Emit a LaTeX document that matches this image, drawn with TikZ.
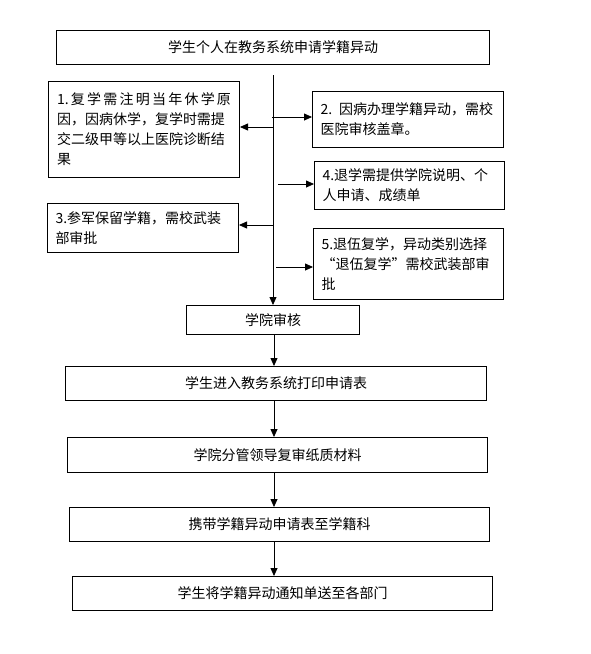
\documentclass[tikz,border=0pt]{standalone}
\usepackage{fontspec}
\setmainfont{Noto Sans CJK SC}
\usetikzlibrary{arrows.meta}
\begin{document}
\begin{tikzpicture}[x=1pt,y=-1pt,
  box/.style={draw=black, line width=1pt, inner sep=0pt, anchor=north west,
    font=\fontsize{14pt}{20pt}\selectfont},
  mbox/.style={box, align=left},
  conn/.style={draw=black, line width=0.8pt},
  arr/.style={conn, -{Triangle[length=8pt,width=7pt]}}]
\fill[white] (0,0) rectangle (590,654);
\useasboundingbox (0,0) rectangle (590,654);

\node[box, minimum width=433pt, minimum height=34pt] (top) at (56,30) {学生个人在教务系统申请学籍异动};

\node[mbox, minimum width=191pt, minimum height=96pt, text width=174pt] (b1) at (48,81)
  {\hbox to 174pt{1.\hfill 复\hfill 学\hfill 需\hfill 注\hfill 明\hfill 当\hfill 年\hfill 休\hfill 学\hfill 原}\\
   因，因病休学，复学时需提\\交二级甲等以上医院诊断结\\果};
\node[mbox, minimum width=191pt, minimum height=56pt, text width=175pt] (b2) at (312,91)
  {2. 因病办理学籍异动，需校\\医院审核盖章。};
\node[mbox, minimum width=190pt, minimum height=48pt, text width=174pt] (b4) at (314,161)
  {4.退学需提供学院说明、个\\人申请、成绩单};
\node[mbox, minimum width=191pt, minimum height=49pt, text width=175pt] (b3) at (47,203)
  {3.参军保留学籍，需校武装\\部审批};
\node[mbox, minimum width=190pt, minimum height=71pt, text width=174pt] (b5) at (313,228)
  {5.退伍复学，异动类别选择\\“退伍复学”需校武装部审\\批};

\node[box, minimum width=173pt, minimum height=29pt] (sh) at (186,305) {学院审核};
\node[box, minimum width=421pt, minimum height=34pt] (b6) at (65,366) {学生进入教务系统打印申请表};
\node[box, minimum width=420pt, minimum height=35pt] (b7) at (67,437) {学院分管领导复审纸质材料};
\node[box, minimum width=420pt, minimum height=34pt] (b8) at (69,507) {携带学籍异动申请表至学籍科};
\node[box, minimum width=420pt, minimum height=34pt] (b9) at (72,576) {学生将学籍异动通知单送至各部门};

% main vertical line
\coordinate (vt) at (273,75);
\draw[arr] (vt) -- (vt |- sh.north);
% branches
\coordinate (j1) at (273,127);
\draw[arr] (j1) -- (j1 -| b1.east);
\coordinate (j2) at (272,117);
\draw[arr] (j2) -- (j2 -| b2.west);
\coordinate (j4) at (278,184);
\draw[arr] (j4) -- (j4 -| b4.west);
\coordinate (j3) at (273,225);
\draw[arr] (j3) -- (j3 -| b3.east);
\coordinate (j5) at (276,267);
\draw[arr] (j5) -- (j5 -| b5.west);

% lower chain
\coordinate (ax) at (274,0);
\draw[arr] (ax |- sh.south) -- (ax |- b6.north);
\draw[arr] (ax |- b6.south) -- (ax |- b7.north);
\draw[arr] (ax |- b7.south) -- (ax |- b8.north);
\draw[arr] (ax |- b8.south) -- (ax |- b9.north);
\end{tikzpicture}
\end{document}
